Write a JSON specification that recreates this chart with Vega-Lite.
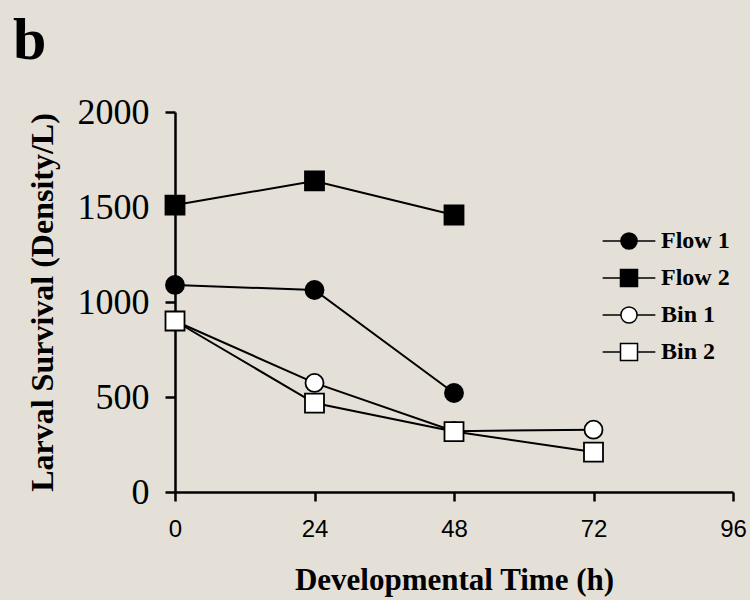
{
  "$schema": "https://vega.github.io/schema/vega-lite/v6.json",
  "width": 558,
  "height": 380,
  "autosize": {"type": "none"},
  "padding": {"left": 175, "top": 112, "right": 17, "bottom": 108},
  "background": "#e4e0d8",
  "title": {
    "text": "b",
    "anchor": "start",
    "frame": "group",
    "dx": -162,
    "offset": -25,
    "baseline": "alphabetic",
    "font": "Liberation Serif",
    "fontSize": 60,
    "fontWeight": "bold",
    "color": "black"
  },
  "config": {
    "view": {"stroke": null},
    "axis": {
      "grid": false,
      "domainColor": "black",
      "domainWidth": 2.5,
      "tickColor": "black",
      "tickWidth": 2.5,
      "labelColor": "black",
      "titleColor": "black"
    }
  },
  "data": {
    "values": [
      {"series": "Flow 1", "time": 0, "density": 1090},
      {"series": "Flow 1", "time": 24, "density": 1063},
      {"series": "Flow 1", "time": 48, "density": 521},
      {"series": "Flow 2", "time": 0, "density": 1510},
      {"series": "Flow 2", "time": 24, "density": 1637},
      {"series": "Flow 2", "time": 48, "density": 1458},
      {"series": "Bin 1", "time": 0, "density": 900},
      {"series": "Bin 1", "time": 24, "density": 574},
      {"series": "Bin 1", "time": 48, "density": 320},
      {"series": "Bin 1", "time": 72, "density": 328},
      {"series": "Bin 2", "time": 0, "density": 900},
      {"series": "Bin 2", "time": 24, "density": 468},
      {"series": "Bin 2", "time": 48, "density": 318},
      {"series": "Bin 2", "time": 72, "density": 210}
    ]
  },
  "encoding": {
    "x": {
      "field": "time",
      "type": "quantitative",
      "scale": {"domain": [0, 96], "nice": false},
      "axis": {
        "title": "Developmental Time (h)",
        "values": [0, 24, 48, 72, 96],
        "tickSize": 9,
        "labelPadding": 16,
        "labelFont": "Liberation Sans",
        "labelFontSize": 24,
        "labelBaseline": "top",
        "labelFlush": false,
        "titleFont": "Liberation Serif",
        "titleFontSize": 31,
        "titleFontWeight": "bold",
        "titleBaseline": "alphabetic",
        "titleY": 97
      }
    },
    "y": {
      "field": "density",
      "type": "quantitative",
      "scale": {"domain": [0, 2000], "nice": false},
      "axis": {
        "title": "Larval Survival (Density/L)",
        "values": [0, 500, 1000, 1500, 2000],
        "format": "d",
        "tickSize": 10,
        "labelPadding": 16,
        "labelFont": "Liberation Serif",
        "labelFontSize": 36,
        "labelFlush": false,
        "titleFont": "Liberation Serif",
        "titleFontSize": 32,
        "titleFontWeight": "bold",
        "titleBaseline": "middle",
        "titleX": -133
      }
    }
  },
  "layer": [
    {
      "mark": {"type": "line", "color": "black", "strokeWidth": 2},
      "encoding": {"detail": {"field": "series"}}
    },
    {
      "mark": {"type": "point", "filled": true, "stroke": "black", "strokeWidth": 1.8, "size": 361, "opacity": 1},
      "encoding": {
        "shape": {
          "field": "series",
          "type": "nominal",
          "scale": {
            "domain": ["Flow 1", "Flow 2", "Bin 1", "Bin 2"],
            "range": [
              "M0.95,0A0.95,0.95,0,1,1,-0.95,0A0.95,0.95,0,1,1,0.95,0Z",
              "M-1,-1H1V1H-1Z",
              "M0.95,0A0.95,0.95,0,1,1,-0.95,0A0.95,0.95,0,1,1,0.95,0Z",
              "M-1,-1H1V1H-1Z"
            ]
          },
          "legend": null
        },
        "fill": {
          "field": "series",
          "type": "nominal",
          "scale": {"domain": ["Flow 1", "Flow 2", "Bin 1", "Bin 2"], "range": ["black", "black", "white", "white"]},
          "legend": null
        }
      }
    },
    {
      "mark": {"type": "point", "filled": true, "stroke": "black", "strokeWidth": 2, "size": 0, "opacity": 1},
      "encoding": {
        "shape": {
          "field": "series",
          "type": "nominal",
          "title": null,
          "scale": {
            "domain": ["Flow 1", "Flow 2", "Bin 1", "Bin 2"],
            "range": [
              "M-3.1,0H-0.95M0.95,0H3.1M0.95,0A0.95,0.95,0,1,1,-0.95,0A0.95,0.95,0,1,1,0.95,0Z",
              "M-3.1,0H-1M1,0H3.1M-1,-1H1V1H-1Z",
              "M-3.1,0H-0.95M0.95,0H3.1M0.95,0A0.95,0.95,0,1,1,-0.95,0A0.95,0.95,0,1,1,0.95,0Z",
              "M-3.1,0H-1M1,0H3.1M-1,-1H1V1H-1Z"
            ]
          },
          "legend": {
            "orient": "none",
            "legendX": 442,
            "legendY": 117,
            "padding": 0,
            "symbolSize": 289,
            "labelOffset": 20,
            "labelFont": "Liberation Serif",
            "labelFontSize": 24,
            "labelFontWeight": "bold",
            "labelColor": "black",
            "rowPadding": 13,
            "encode": {
              "symbols": {
                "update": {
                  "stroke": {"value": "black"},
                  "strokeWidth": {"value": 2},
                  "opacity": {"value": 1}
                }
              }
            }
          }
        },
        "fill": {
          "field": "series",
          "type": "nominal",
          "title": null,
          "scale": {"domain": ["Flow 1", "Flow 2", "Bin 1", "Bin 2"], "range": ["black", "black", "white", "white"]}
        }
      }
    }
  ],
  "resolve": {"scale": {"shape": "independent", "fill": "independent"}}
}
